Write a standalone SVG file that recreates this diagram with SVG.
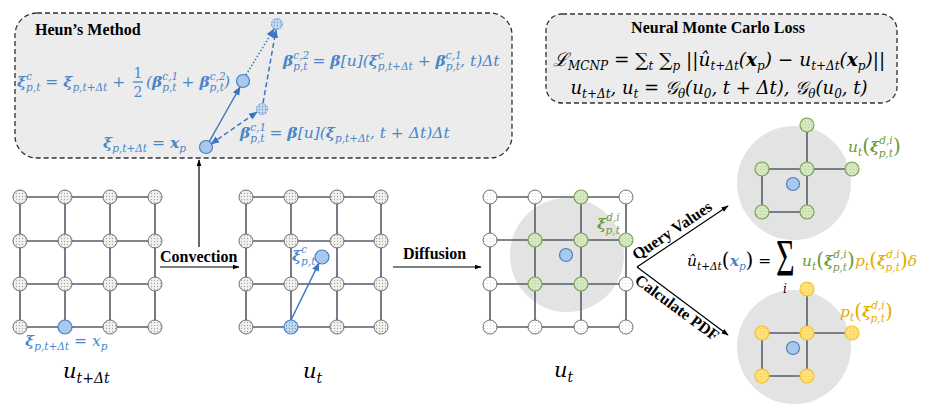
<svg xmlns="http://www.w3.org/2000/svg" width="931" height="409" viewBox="0 0 931 409">
<defs>
<pattern id="dots" width="3" height="3" patternUnits="userSpaceOnUse"><rect width="3" height="3" fill="#f1f2ee"/><circle cx="1.5" cy="1.5" r="0.65" fill="#a9ad9f"/></pattern>
<pattern id="dotsW" width="3" height="3" patternUnits="userSpaceOnUse"><rect width="3" height="3" fill="#ffffff"/><circle cx="1.5" cy="1.5" r="0.5" fill="#d0d4c8"/></pattern>
<pattern id="dotsB" width="3" height="3" patternUnits="userSpaceOnUse"><rect width="3" height="3" fill="#c3d8f0"/><circle cx="1.5" cy="1.5" r="0.7" fill="#6f9ad0"/></pattern>
<pattern id="dotsY" width="3" height="3" patternUnits="userSpaceOnUse"><rect width="3" height="3" fill="#ffe27a"/><circle cx="1.5" cy="1.5" r="0.6" fill="#f5c94a"/></pattern>
<pattern id="dotsG" width="3" height="3" patternUnits="userSpaceOnUse"><rect width="3" height="3" fill="#d5e7c3"/><circle cx="1.5" cy="1.5" r="0.6" fill="#b2cf95"/></pattern>
<marker id="ak" viewBox="0 0 10 10" refX="9" refY="5" markerWidth="6" markerHeight="6" orient="auto-start-reverse"><path d="M0,1.5 L10,5 L0,8.5 z" fill="#000"/></marker>
<marker id="ab" viewBox="0 0 10 10" refX="9" refY="5" markerWidth="6" markerHeight="6" orient="auto-start-reverse"><path d="M0,1 L10,5 L0,9 z" fill="#3f74c0"/></marker>
</defs>
<style>
.box{fill:#ececec;stroke:#333;stroke-width:1.3;stroke-dasharray:5 3}
.gl{stroke:#555d6a;stroke-width:1.6;fill:none}
.n{fill:url(#dots);stroke:#6b7070;stroke-width:1}
.nw{fill:url(#dotsW);stroke:#6b7070;stroke-width:1}
.ng{fill:url(#dotsG);stroke:#78a24f;stroke-width:1.2}
.ny{fill:url(#dotsY);stroke:#f2c12e;stroke-width:1.2}
.nb{fill:#a8c9ec;stroke:#4a7fc2;stroke-width:1.2}
.nbd{fill:url(#dotsB);stroke:#6f9ad0;stroke-width:1;stroke-dasharray:2 1}
.halo{fill:#e3e3e3}
.t{font-family:"Liberation Serif",serif;font-weight:bold;fill:#000;font-size:16px}
.m{font-family:"DejaVu Serif",serif;font-style:italic;font-size:15.5px}
.b{font-weight:bold}
.s{font-size:10.5px}
.p{font-size:20px;font-style:normal}
.blue{fill:#4a86c8}
.green{fill:#6d9a3c}
.yel{fill:#e2ae00}
.k{stroke:#000;stroke-width:1.2;fill:none}
.bl{stroke:#3f74c0;stroke-width:1.5;fill:none}
</style>

<g id="heun-box">
<rect class="box" x="15" y="13" width="497" height="145" rx="22"/>
<text class="t" x="35" y="35">Heun’s Method</text>
<text class="m blue" x="17" y="87"><tspan class="b">ξ</tspan><tspan class="s" dy="-7">c</tspan><tspan class="s" dx="-6" dy="11">p,t</tspan><tspan dy="-4"> = </tspan><tspan class="b">ξ</tspan><tspan class="s" dy="4">p,t+Δt</tspan><tspan dy="-4"> +</tspan></text>
<text class="blue" x="138" y="78" font-family="DejaVu Serif,serif" font-size="14" text-anchor="middle">1</text>
<line x1="133" y1="82" x2="143" y2="82" stroke="#4a86c8" stroke-width="1.3"/>
<text class="blue" x="138" y="97" font-family="DejaVu Serif,serif" font-size="14" text-anchor="middle">2</text>
<text class="m blue" x="146" y="87">(<tspan class="b">β</tspan><tspan class="s" dy="-7">c,1</tspan><tspan class="s" dx="-16" dy="11">p,t</tspan><tspan dy="-4"> + </tspan><tspan class="b">β</tspan><tspan class="s" dy="-7">c,2</tspan><tspan class="s" dx="-16" dy="11">p,t</tspan><tspan dy="-4">)</tspan></text>
<text class="m blue" x="283" y="66"><tspan class="b">β</tspan><tspan class="s" dy="-7">c,2</tspan><tspan class="s" dx="-16" dy="11">p,t</tspan><tspan dy="-4"> = </tspan><tspan class="b">β</tspan>[u](<tspan class="b">ξ</tspan><tspan class="s" dy="-7">c</tspan><tspan class="s" dx="-6" dy="11">p,t+Δt</tspan><tspan dy="-4"> + </tspan><tspan class="b">β</tspan><tspan class="s" dy="-7">c,1</tspan><tspan class="s" dx="-16" dy="11">p,t</tspan><tspan dy="-4">, t)Δt</tspan></text>
<text class="m blue" x="103" y="148"><tspan class="b">ξ</tspan><tspan class="s" dy="4">p,t+Δt</tspan><tspan dy="-4"> = </tspan><tspan class="b">x</tspan><tspan class="s" dy="4">p</tspan></text>
<text class="m blue" x="240" y="138"><tspan class="b">β</tspan><tspan class="s" dy="-7">c,1</tspan><tspan class="s" dx="-16" dy="11">p,t</tspan><tspan dy="-4"> = </tspan><tspan class="b">β</tspan>[u](<tspan class="b">ξ</tspan><tspan class="s" dy="4">p,t+Δt</tspan><tspan dy="-4">, t + Δt)Δt</tspan></text>
</g>
<g id="heun-points">
<circle class="nbd" cx="277" cy="24" r="5.5"/>
<circle class="nb" cx="243" cy="81" r="6.5"/>
<circle class="nbd" cx="262" cy="109" r="5.5"/>
<circle class="nb" cx="206" cy="147" r="6.5"/>
</g>

<g id="loss-box">
<rect class="box" x="546" y="14" width="351" height="89" rx="16"/>
<text class="t" x="718" y="33" text-anchor="middle">Neural Monte Carlo Loss</text>
<text class="m" x="553" y="66" style="font-size:18.5px">ℒ<tspan class="s" style="font-size:12px" dy="4">MCNP</tspan><tspan dy="-4"> = </tspan><tspan font-style="normal">∑</tspan><tspan style="font-size:12px" dy="4">t</tspan><tspan dy="-4"> </tspan><tspan font-style="normal">∑</tspan><tspan style="font-size:12px" dy="4">p</tspan><tspan dy="-4"> ||û</tspan><tspan style="font-size:12px" dy="4">t+Δt</tspan><tspan dy="-4">(</tspan><tspan class="b">x</tspan><tspan style="font-size:12px" dy="4">p</tspan><tspan dy="-4">) − u</tspan><tspan style="font-size:12px" dy="4">t+Δt</tspan><tspan dy="-4">(</tspan><tspan class="b">x</tspan><tspan style="font-size:12px" dy="4">p</tspan><tspan dy="-4">)||</tspan></text>
<text class="m" x="719" y="94" style="font-size:18px" text-anchor="middle">u<tspan style="font-size:12px" dy="4">t+Δt</tspan><tspan dy="-4">, u</tspan><tspan style="font-size:12px" dy="4">t</tspan><tspan dy="-4"> =  𝒢</tspan><tspan style="font-size:12px" dy="4">θ</tspan><tspan dy="-4">(u</tspan><tspan style="font-size:12px" dy="4">0</tspan><tspan dy="-4">, t + Δt), 𝒢</tspan><tspan style="font-size:12px" dy="4">θ</tspan><tspan dy="-4">(u</tspan><tspan style="font-size:12px" dy="4">0</tspan><tspan dy="-4">, t)</tspan></text>
</g>

<g id="grid-1">
<path class="gl" d="M20,197H155M20,241H155M20,284H155M20,327H155M20,197V327M65,197V327M110,197V327M155,197V327"/>
<g class="n">
<circle cx="20" cy="197" r="7"/><circle cx="65" cy="197" r="7"/><circle cx="110" cy="197" r="7"/><circle cx="155" cy="197" r="7"/>
<circle cx="20" cy="241" r="7"/><circle cx="65" cy="241" r="7"/><circle cx="110" cy="241" r="7"/><circle cx="155" cy="241" r="7"/>
<circle cx="20" cy="284" r="7"/><circle cx="65" cy="284" r="7"/><circle cx="110" cy="284" r="7"/><circle cx="155" cy="284" r="7"/>
<circle cx="20" cy="327" r="7"/><circle cx="110" cy="327" r="7"/><circle cx="155" cy="327" r="7"/>
</g>
<circle class="nb" cx="65" cy="327" r="7"/>
<text class="m blue" x="25" y="346"><tspan class="b">ξ</tspan><tspan class="s" dy="4">p,t+Δt</tspan><tspan dy="-4"> = x</tspan><tspan class="s" dy="4">p</tspan></text>
<text class="m" x="63" y="378" style="font-size:21px">u<tspan style="font-size:14px" dy="5">t+Δt</tspan></text>
</g>

<g id="grid-2">
<path class="gl" d="M246,197H381M246,241H381M246,284H381M246,327H381M246,197V327M291,197V327M337,197V327M381,197V327"/>
<g class="n">
<circle cx="246" cy="197" r="7"/><circle cx="291" cy="197" r="7"/><circle cx="337" cy="197" r="7"/><circle cx="381" cy="197" r="7"/>
<circle cx="246" cy="241" r="7"/><circle cx="291" cy="241" r="7"/><circle cx="337" cy="241" r="7"/><circle cx="381" cy="241" r="7"/>
<circle cx="246" cy="284" r="7"/><circle cx="291" cy="284" r="7"/><circle cx="337" cy="284" r="7"/><circle cx="381" cy="284" r="7"/>
<circle cx="246" cy="327" r="7"/><circle cx="337" cy="327" r="7"/><circle cx="381" cy="327" r="7"/>
</g>
<circle cx="291" cy="327" r="7" fill="url(#dotsB)" stroke="#4a7fc2" stroke-width="1.2"/>
<circle class="nb" cx="322" cy="257" r="7"/>
<text class="m blue" x="292" y="261"><tspan class="b">ξ</tspan><tspan class="s" dy="-8">c</tspan><tspan class="s" dx="-6" dy="12">p,t</tspan></text>
<text class="m" x="303" y="378" style="font-size:21px">u<tspan style="font-size:14px" dy="5">t</tspan></text>
</g>

<g id="grid-3">
<circle class="halo" cx="567" cy="255" r="57"/>
<path class="gl" d="M490,197H626M490,240H626M490,284H626M490,327H626M490,197V327M535,197V327M581,197V327M626,197V327"/>
<g class="nw">
<circle cx="490" cy="197" r="7"/><circle cx="535" cy="197" r="7"/><circle cx="626" cy="197" r="7"/>
<circle cx="490" cy="240" r="7"/>
<circle cx="490" cy="284" r="7"/><circle cx="626" cy="284" r="7"/>
<circle cx="490" cy="327" r="7"/><circle cx="535" cy="327" r="7"/><circle cx="581" cy="327" r="7"/><circle cx="626" cy="327" r="7"/>
</g>
<g class="ng">
<circle cx="581" cy="197" r="7"/>
<circle cx="535" cy="240" r="7"/><circle cx="581" cy="240" r="7"/><circle cx="626" cy="240" r="7"/>
<circle cx="535" cy="284" r="7"/><circle cx="581" cy="284" r="7"/>
</g>
<circle class="nb" cx="566" cy="255" r="6.5"/>
<text class="m green" x="597" y="229"><tspan class="b">ξ</tspan><tspan class="s" dy="-8">d,i</tspan><tspan class="s" dx="-14" dy="13">p,t</tspan></text>
<text class="m" x="554" y="377" style="font-size:21px">u<tspan style="font-size:14px" dy="5">t</tspan></text>
</g>

<g id="query-values">
<circle class="halo" cx="794" cy="183" r="57"/>
<path class="gl" d="M762,169H852M762,212H807M762,169V212M807,125V212"/>
<g class="ng">
<circle cx="807" cy="125" r="7"/><circle cx="762" cy="169" r="7"/><circle cx="807" cy="169" r="7"/><circle cx="852" cy="169" r="7"/><circle cx="762" cy="212" r="7"/><circle cx="807" cy="212" r="7"/>
</g>
<circle class="nb" cx="793" cy="184" r="6.5"/>
<text class="m green" x="848" y="152">u<tspan class="s" dy="4">t</tspan><tspan class="p" dy="-3">(</tspan><tspan class="b" dy="-1">ξ</tspan><tspan class="s" dy="-8">d,i</tspan><tspan class="s" dx="-14" dy="13">p,t</tspan><tspan class="p" dy="-4">)</tspan></text>
</g>

<g id="calculate-pdf">
<circle class="halo" cx="794" cy="347" r="57"/>
<path class="gl" d="M762,333H852M762,376H807M762,333V376M807,289V376"/>
<g class="ny">
<circle cx="807" cy="289" r="7"/><circle cx="762" cy="333" r="7"/><circle cx="807" cy="333" r="7"/><circle cx="852" cy="333" r="7"/><circle cx="762" cy="376" r="7"/><circle cx="807" cy="376" r="7"/>
</g>
<circle class="nb" cx="793" cy="348" r="6.5"/>
<text class="m yel" x="840" y="317">p<tspan class="s" dy="4">t</tspan><tspan class="p" dy="-3">(</tspan><tspan class="b" dy="-1">ξ</tspan><tspan class="s" dy="-8">d,i</tspan><tspan class="s" dx="-14" dy="13">p,t</tspan><tspan class="p" dy="-4">)</tspan></text>
</g>

<g id="estimate">
<text class="m" x="687" y="266">û<tspan class="s" dy="4">t+Δt</tspan><tspan class="p" dy="-3">(</tspan><tspan class="b blue" dy="-1">x</tspan><tspan class="s blue" dy="4">p</tspan><tspan class="p" dy="-3">)</tspan><tspan dy="-1"> =</tspan></text>
<text transform="translate(776,276) scale(0.8,1.3)" font-family="Liberation Serif,serif" font-size="40">Σ</text>
<text class="m" x="783" y="293" style="font-size:12px">i</text>
<text class="m green" x="802" y="266">u<tspan class="s" dy="4">t</tspan><tspan class="p" dy="-3">(</tspan><tspan class="b" dy="-1">ξ</tspan><tspan class="s" dy="-8">d,i</tspan><tspan class="s" dx="-14" dy="13">p,t</tspan><tspan class="p" dy="-4">)</tspan></text>
<text class="m yel" x="855" y="266">p<tspan class="s" dy="4">t</tspan><tspan class="p" dy="-3">(</tspan><tspan class="b" dy="-1">ξ</tspan><tspan class="s" dy="-8">d,i</tspan><tspan class="s" dx="-14" dy="13">p,t</tspan><tspan class="p" dy="-4">)</tspan><tspan dy="-1">δ</tspan></text>
</g>

<g id="connectors">
<line class="k" x1="160" y1="267" x2="239" y2="267" marker-end="url(#ak)"/>
<line class="k" x1="199" y1="247" x2="199" y2="160" marker-end="url(#ak)"/>
<line class="k" x1="393" y1="267" x2="481" y2="267" marker-end="url(#ak)"/>
<line class="k" x1="637" y1="267" x2="728" y2="206" marker-end="url(#ak)"/>
<line class="k" x1="637" y1="267" x2="728" y2="335" marker-end="url(#ak)"/>
<line class="bl" x1="291" y1="320" x2="319" y2="263" marker-end="url(#ab)"/>
<line class="bl" x1="209" y1="142" x2="240" y2="87" marker-end="url(#ab)"/>
<line class="bl" x1="211" y1="144" x2="257" y2="112" stroke-dasharray="5 3" marker-start="url(#ab)" marker-end="url(#ab)"/>
<line class="bl" x1="263" y1="103" x2="276" y2="30" stroke-dasharray="5 3" marker-end="url(#ab)"/>
<line class="bl" x1="246" y1="75" x2="274" y2="29" stroke-dasharray="1.5 2" marker-end="url(#ab)"/>
<text class="t" x="160" y="262">Convection</text>
<text class="t" x="403" y="259">Diffusion</text>
<text class="t" transform="translate(675,235) rotate(-33.8)" text-anchor="middle">Query Values</text>
<text class="t" transform="translate(674,312) rotate(36.4)" text-anchor="middle">Calculate PDF</text>
</g>
</svg>
